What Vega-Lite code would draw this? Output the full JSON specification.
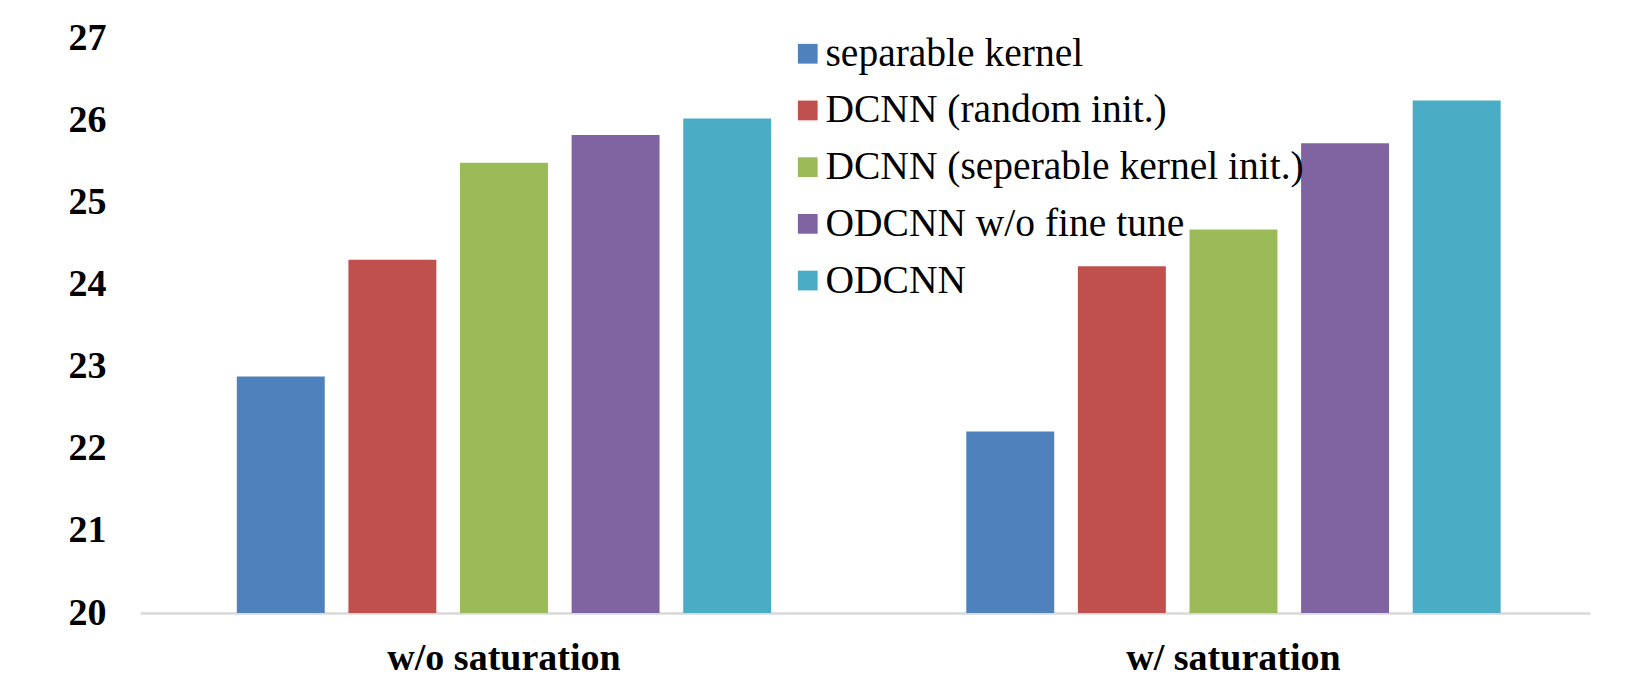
{
  "$schema": "https://vega.github.io/schema/vega-lite/v6.json",
  "autosize": {"type": "none"},
  "width": 1450,
  "height": 575,
  "padding": {"left": 140, "top": 38, "right": 36, "bottom": 65},
  "background": "white",
  "data": {
    "values": [
      {"condition": "w/o saturation", "method": "separable kernel", "value": 22.88},
      {"condition": "w/o saturation", "method": "DCNN (random init.)", "value": 24.30},
      {"condition": "w/o saturation", "method": "DCNN (seperable kernel init.)", "value": 25.48},
      {"condition": "w/o saturation", "method": "ODCNN w/o fine tune", "value": 25.82},
      {"condition": "w/o saturation", "method": "ODCNN", "value": 26.02},
      {"condition": "w/ saturation", "method": "separable kernel", "value": 22.21},
      {"condition": "w/ saturation", "method": "DCNN (random init.)", "value": 24.22},
      {"condition": "w/ saturation", "method": "DCNN (seperable kernel init.)", "value": 24.67},
      {"condition": "w/ saturation", "method": "ODCNN w/o fine tune", "value": 25.72},
      {"condition": "w/ saturation", "method": "ODCNN", "value": 26.24}
    ]
  },
  "mark": {"type": "bar", "strokeWidth": 0},
  "encoding": {
    "x": {
      "field": "condition",
      "type": "nominal",
      "sort": ["w/o saturation", "w/ saturation"],
      "scale": {"paddingInner": 0.2675, "paddingOuter": 0.1276, "align": 0.52},
      "axis": {
        "title": null,
        "labelAngle": 0,
        "ticks": false,
        "tickSize": 0,
        "labelPadding": 26,
        "labelLimit": 1000,
        "labelFont": "Liberation Serif",
        "labelFontWeight": "bold",
        "labelFontSize": 38,
        "labelColor": "#000000",
        "domainColor": "#d9d9d9",
        "domainWidth": 2.5
      }
    },
    "xOffset": {
      "field": "method",
      "type": "nominal",
      "sort": ["separable kernel", "DCNN (random init.)", "DCNN (seperable kernel init.)", "ODCNN w/o fine tune", "ODCNN"],
      "scale": {"paddingInner": 0.212, "paddingOuter": 0}
    },
    "y": {
      "field": "value",
      "type": "quantitative",
      "scale": {"domain": [20, 27], "nice": false, "zero": false},
      "axis": {
        "title": null,
        "values": [20, 21, 22, 23, 24, 25, 26, 27],
        "grid": false,
        "domain": false,
        "ticks": false,
        "tickSize": 0,
        "labelPadding": 34,
        "labelFont": "Liberation Serif",
        "labelFontWeight": "bold",
        "labelFontSize": 38,
        "labelColor": "#000000"
      }
    },
    "y2": {"datum": 20},
    "color": {
      "field": "method",
      "type": "nominal",
      "scale": {
        "domain": ["separable kernel", "DCNN (random init.)", "DCNN (seperable kernel init.)", "ODCNN w/o fine tune", "ODCNN"],
        "range": ["#4f81bd", "#c0504d", "#9bbb59", "#8064a2", "#4bacc6"]
      },
      "legend": {
        "title": null,
        "orient": "none",
        "legendX": 648,
        "legendY": -4,
        "padding": 0,
        "symbolType": "square",
        "symbolSize": 390,
        "symbolStrokeWidth": 0,
        "labelFont": "Liberation Serif",
        "labelFontSize": 39.5,
        "labelColor": "#000000",
        "labelOffset": -2,
        "rowPadding": 15.7,
        "labelLimit": 1000
      }
    }
  },
  "config": {"view": {"stroke": null}}
}
